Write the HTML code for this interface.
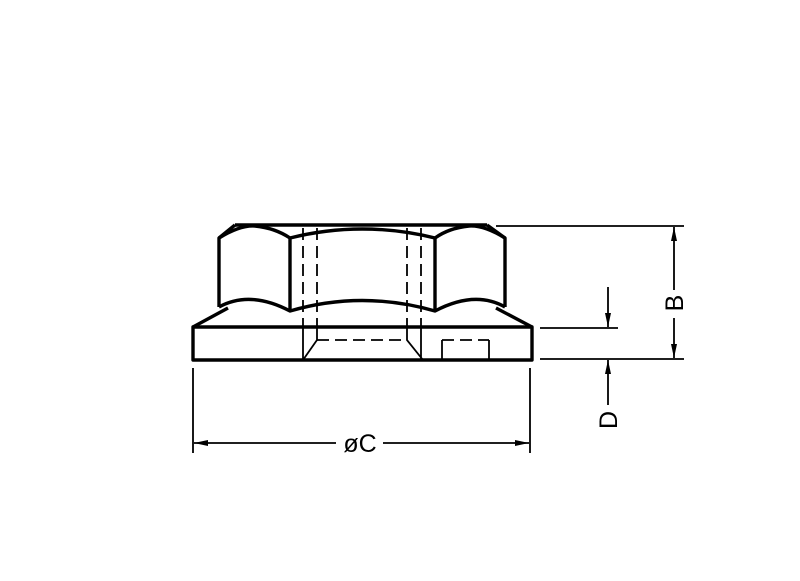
<!DOCTYPE html>
<html><head><meta charset="utf-8"><style>html,body{margin:0;padding:0;background:#fff}</style></head>
<body>
<svg width="800" height="576" viewBox="0 0 800 576" xmlns="http://www.w3.org/2000/svg">
<defs>
<marker id="a" viewBox="0 0 14 6" refX="14" refY="3" markerWidth="14" markerHeight="6" markerUnits="userSpaceOnUse" orient="auto"><path d="M0,0 L14,3 L0,6 Z" fill="#000"/></marker>
</defs>
<g fill="none" stroke="#000" stroke-width="3.4" stroke-linejoin="round">
<path d="M235,225 L487,225"/>
<path d="M219,307 L219,238 Q240,225 255,226 Q275,228 290,238"/>
<path d="M505,307 L505,238 Q484,225 469,226 Q449,228 435,238"/>
<path d="M290,238 Q362,220 435,238"/>
<path d="M235,225 L219,238 M487,225 L505,238"/>
<path d="M290,238 L290,311 M435,238 L435,311"/>
<path d="M219,307 Q250,290 290,311 Q362,290 435,311 Q475,290 505,307"/>
<path d="M193,327 L228,308 M532,327 L496,308"/>
<rect x="193" y="327" width="339" height="33"/>
</g>
<g fill="none" stroke="#000" stroke-width="1.8">
<path d="M303,228 L303,327 M317,228 L317,327 M407,228 L407,327 M421,228 L421,327" stroke-dasharray="12,6"/>
<path d="M317,340 L407,340" stroke-dasharray="12,6"/>
<path d="M303,327 L303,360 M421,327 L421,360 M317,327 L317,340 L303,360 M407,327 L407,340 L423,360"/>
<path d="M442,360 L442,340 M489,340 L489,360"/>
<path d="M442,340 L489,340" stroke-dasharray="12,6"/>
</g>
<g stroke="#000" stroke-width="1.8" fill="none">
<path d="M496,226 L684,226 M540,359 L684,359 M540,328 L618,328"/>
<path d="M674,290 L674,227" marker-end="url(#a)"/>
<path d="M674,318 L674,358" marker-end="url(#a)"/>
<path d="M608,287 L608,327" marker-end="url(#a)"/>
<path d="M608,405 L608,360" marker-end="url(#a)"/>
<path d="M193,368 L193,453 M530,368 L530,453"/>
<path d="M336,443 L194,443" marker-end="url(#a)"/>
<path d="M383,443 L529,443" marker-end="url(#a)"/>
</g>
<g font-family="Liberation Sans, sans-serif" font-size="25" fill="#000" text-anchor="middle">
<text x="360" y="452">øC</text>
<text transform="translate(683,303) rotate(-90)">B</text>
<text transform="translate(617,420) rotate(-90)">D</text>
</g>
</svg>
</body></html>
